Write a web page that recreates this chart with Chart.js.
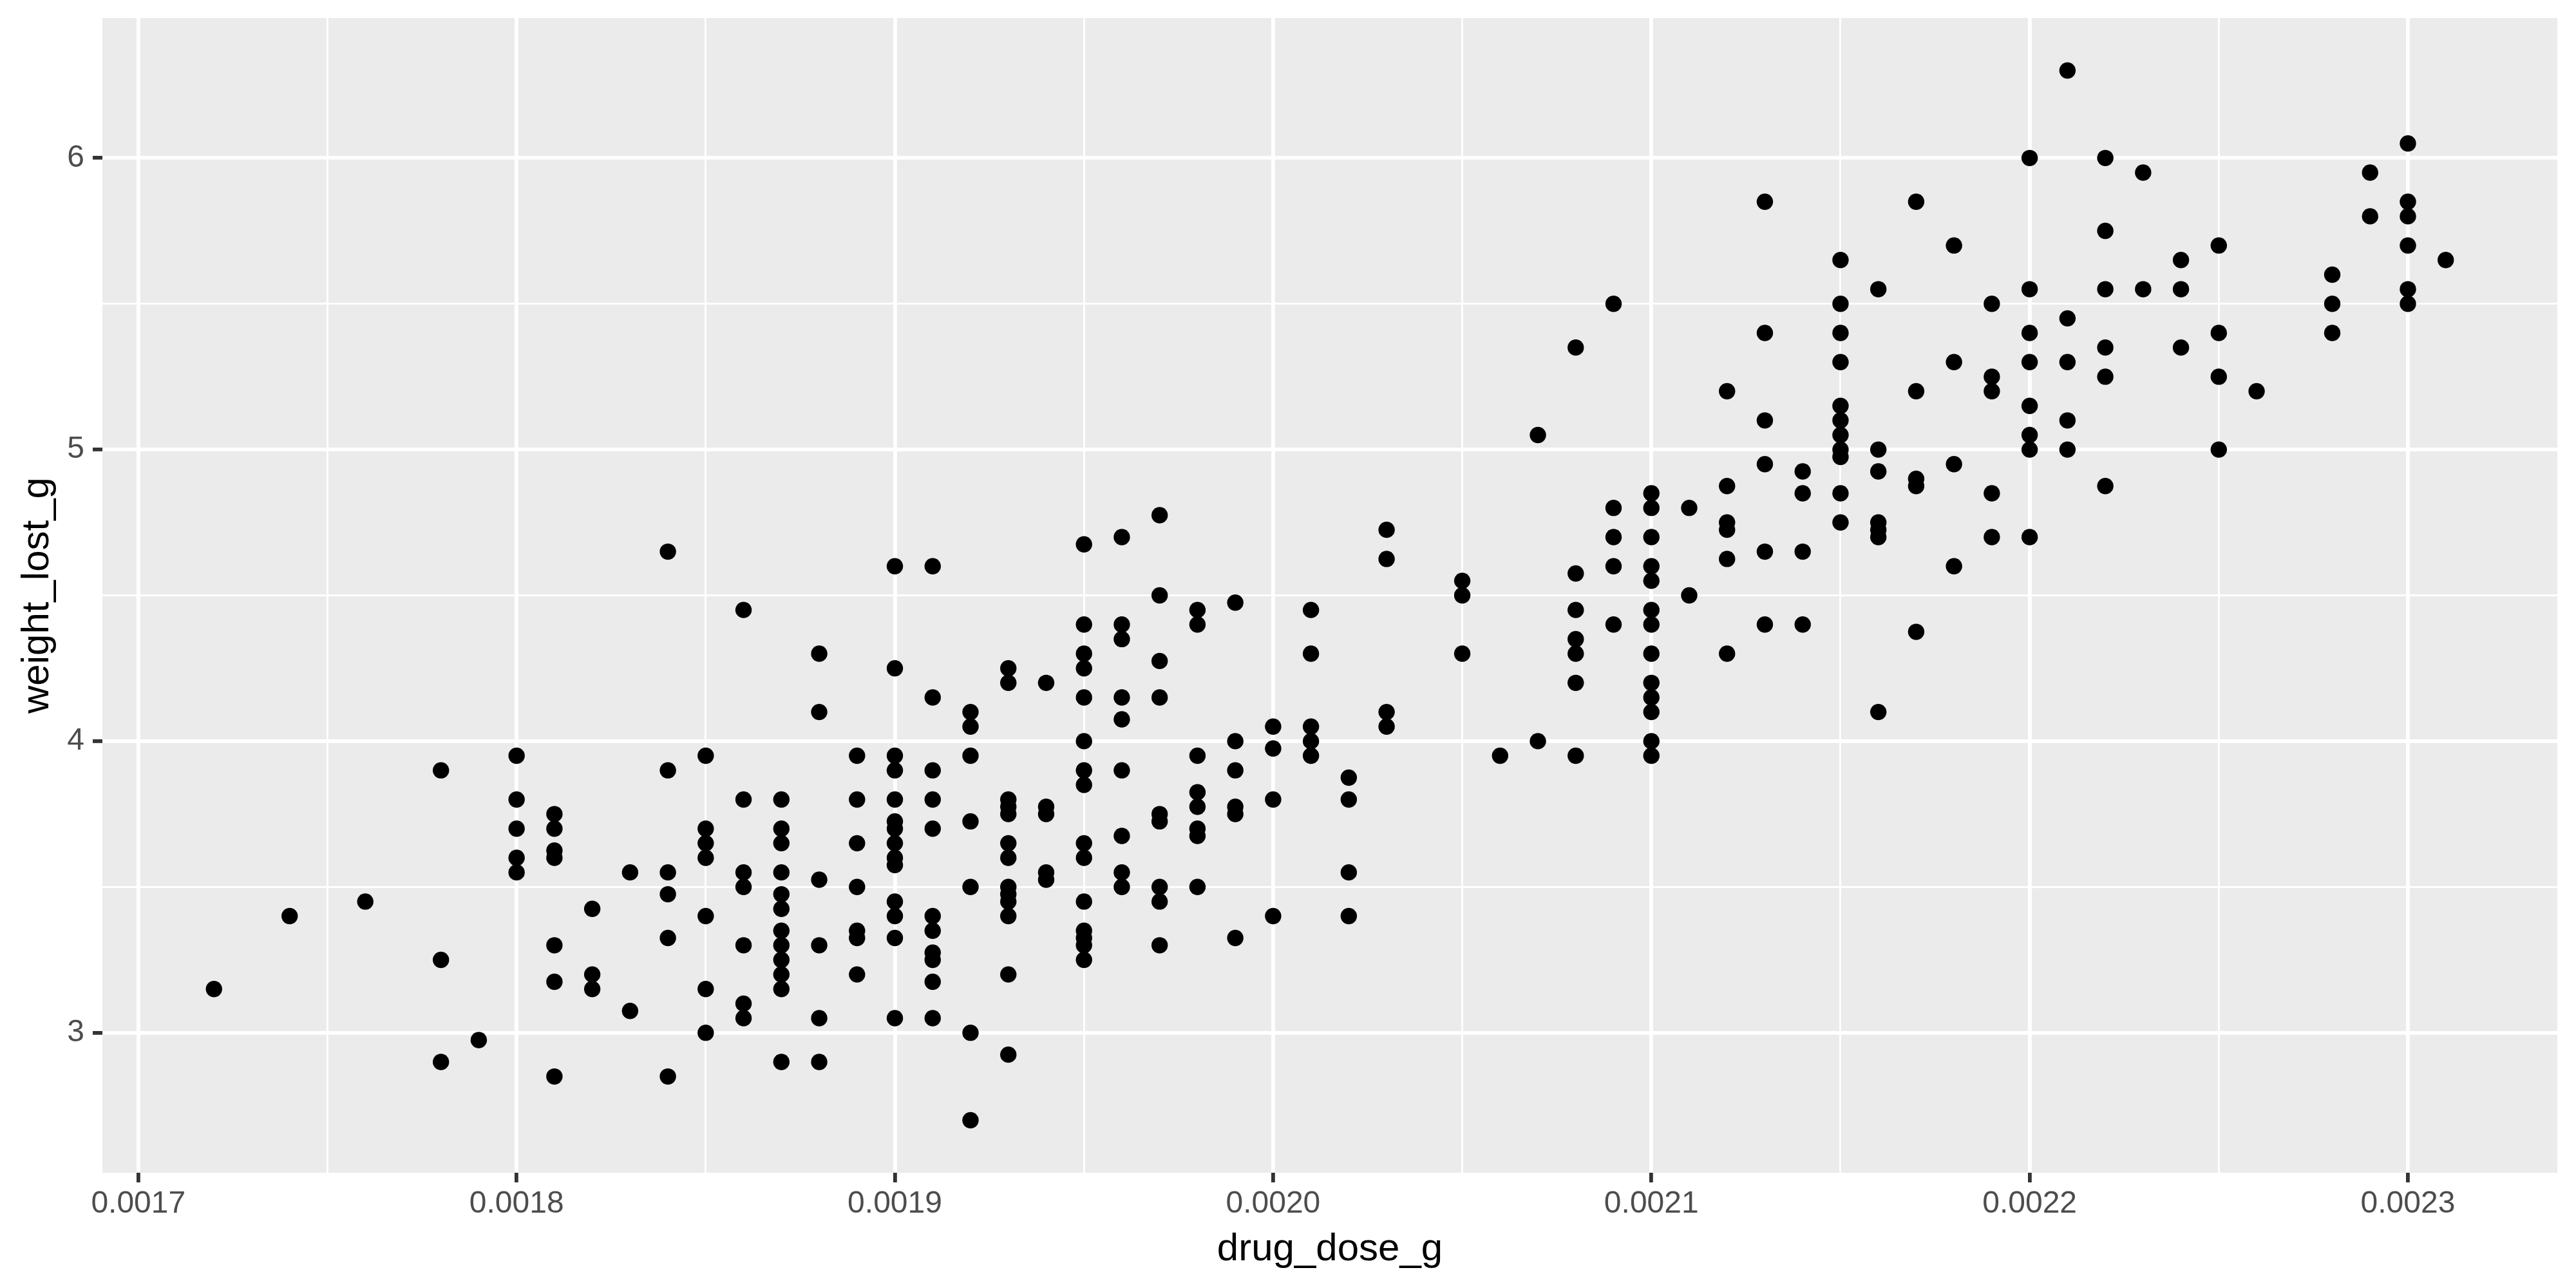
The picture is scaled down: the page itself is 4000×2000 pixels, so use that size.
<!DOCTYPE html>
<html>
<head>
<meta charset="utf-8">
<title>weight_lost_g vs drug_dose_g</title>
<script src="https://cdn.jsdelivr.net/npm/chart.js@4.4.1/dist/chart.umd.min.js"></script>
<style>
  html, body { margin: 0; padding: 0; background: #FFFFFF; }
</style>
</head>
<body>
<canvas id="grafico" width="4000" height="2000"></canvas>
<script>
// Dose levels (g) and the weight lost (g) observed at each dose
const doses = [
    0.00172, 0.00174, 0.00176, 0.00178, 0.00179, 0.00180, 0.00181, 0.00182, 0.00183, 0.00184,
    0.00185, 0.00186, 0.00187, 0.00188, 0.00189, 0.00190, 0.00191, 0.00192, 0.00193, 0.00194,
    0.00195, 0.00196, 0.00197, 0.00198, 0.00199, 0.00200, 0.00201, 0.00202, 0.00203, 0.00205,
    0.00206, 0.00207, 0.00208, 0.00209, 0.00210, 0.00211, 0.00212, 0.00213, 0.00214, 0.00215,
    0.00216, 0.00217, 0.00218, 0.00219, 0.00220, 0.00221, 0.00222, 0.00223, 0.00224, 0.00225,
    0.00226, 0.00228, 0.00229, 0.00230, 0.00231
];
const weightLost = [
    [3.15],
    [3.40],
    [3.45],
    [3.90, 3.25, 2.90],
    [2.975],
    [3.95, 3.80, 3.70, 3.60, 3.55],
    [3.75, 3.70, 3.625, 3.60, 3.30, 3.175, 2.85],
    [3.425, 3.20, 3.15],
    [3.55, 3.075],
    [4.65, 3.90, 3.55, 3.475, 3.325, 2.85],
    [3.95, 3.70, 3.65, 3.60, 3.40, 3.15, 3.00],
    [4.45, 3.80, 3.55, 3.50, 3.30, 3.10, 3.05],
    [3.80, 3.70, 3.65, 3.55, 3.475, 3.425, 3.35, 3.30, 3.25, 3.20, 3.15, 2.90],
    [4.30, 4.10, 3.525, 3.30, 3.05, 2.90],
    [3.95, 3.80, 3.65, 3.50, 3.35, 3.325, 3.20],
    [4.60, 4.25, 3.95, 3.90, 3.80, 3.725, 3.70, 3.65, 3.60, 3.575, 3.45, 3.40, 3.325, 3.05],
    [4.60, 4.15, 3.90, 3.80, 3.70, 3.40, 3.35, 3.275, 3.25, 3.175, 3.05],
    [4.10, 4.05, 3.95, 3.725, 3.50, 3.00, 2.70],
    [4.25, 4.20, 3.80, 3.775, 3.75, 3.65, 3.60, 3.50, 3.475, 3.45, 3.40, 3.20, 2.925],
    [4.20, 3.775, 3.75, 3.55, 3.525],
    [4.675, 4.40, 4.30, 4.25, 4.15, 4.00, 3.90, 3.85, 3.65, 3.60, 3.45, 3.35, 3.325, 3.30, 3.25],
    [4.70, 4.40, 4.35, 4.15, 4.075, 3.90, 3.675, 3.55, 3.50],
    [4.775, 4.50, 4.275, 4.15, 3.75, 3.725, 3.50, 3.45, 3.30],
    [4.45, 4.40, 3.95, 3.825, 3.775, 3.70, 3.675, 3.50],
    [4.475, 4.00, 3.90, 3.775, 3.75, 3.325],
    [4.05, 3.975, 3.80, 3.40],
    [4.45, 4.30, 4.05, 4.00, 3.95],
    [3.875, 3.80, 3.55, 3.40],
    [4.725, 4.625, 4.10, 4.05],
    [4.55, 4.50, 4.30],
    [3.95],
    [5.05, 4.00],
    [5.35, 4.575, 4.45, 4.35, 4.30, 4.20, 3.95],
    [5.50, 4.80, 4.70, 4.60, 4.40],
    [4.85, 4.80, 4.70, 4.60, 4.55, 4.45, 4.40, 4.30, 4.20, 4.15, 4.10, 4.00, 3.95],
    [4.80, 4.50],
    [5.20, 4.875, 4.75, 4.725, 4.625, 4.30],
    [5.85, 5.40, 5.10, 4.95, 4.65, 4.40],
    [4.925, 4.85, 4.65, 4.40],
    [5.65, 5.50, 5.40, 5.30, 5.15, 5.10, 5.05, 5.00, 4.975, 4.85, 4.75],
    [5.55, 5.00, 4.925, 4.75, 4.725, 4.70, 4.10],
    [5.85, 5.20, 4.90, 4.875, 4.375],
    [5.70, 5.30, 4.95, 4.60],
    [5.50, 5.25, 5.20, 4.85, 4.70],
    [6.00, 5.55, 5.40, 5.30, 5.15, 5.05, 5.00, 4.70],
    [6.30, 5.45, 5.30, 5.10, 5.00],
    [6.00, 5.75, 5.55, 5.35, 5.25, 4.875],
    [5.95, 5.55],
    [5.65, 5.55, 5.35],
    [5.70, 5.40, 5.25, 5.00],
    [5.20],
    [5.60, 5.50, 5.40],
    [5.95, 5.80],
    [6.05, 5.85, 5.80, 5.70, 5.55, 5.50],
    [5.65]
];

// Axis breaks (labelled) and minor breaks (grid only)
const xTickLabels = [0.0017, 0.0018, 0.0019, 0.0020, 0.0021, 0.0022, 0.0023];
const xMinorBreaks = [0.00175, 0.00185, 0.00195, 0.00205, 0.00215, 0.00225];
const yTickLabels = [3, 4, 5, 6];
const yMinorBreaks = [3.5, 4.5, 5.5];

const fonte = 'Liberation Sans';

// Monta os pontos a partir das doses
const pontos = [];
doses.forEach((d, i) => {
    weightLost[i].forEach(w => pontos.push({ x: d, y: w }));
});

// Limites com a expansão de 5% do ggplot
const xs = pontos.map(p => p.x);
const ys = pontos.map(p => p.y);
const xPad = (Math.max(...xs) - Math.min(...xs)) * 0.05;
const yPad = (Math.max(...ys) - Math.min(...ys)) * 0.05;

function isMajor(v, majors) {
    return majors.some(m => Math.abs(m - v) < 1e-9);
}

// Fundo cinza do painel
const panelBg = {
    id: 'panelBg',
    beforeDraw(chart) {
        const { ctx, chartArea: a } = chart;
        ctx.save();
        ctx.fillStyle = '#EBEBEB';
        ctx.fillRect(a.left, a.top, a.right - a.left, a.bottom - a.top);
        ctx.restore();
    }
};

function gridFor(majors) {
    return {
        color: '#FFFFFF',
        lineWidth: c => (c.tick && isMajor(c.tick.value, majors)) ? 5.8 : 2.9,
        drawTicks: true,
        tickLength: 15,
        tickWidth: 5.8,
        tickColor: c => (c.tick && isMajor(c.tick.value, majors)) ? '#333333' : 'rgba(0,0,0,0)'
    };
}

const chartConfig = {
    type: 'scatter',
    data: {
        datasets: [{
            data: pontos,
            backgroundColor: '#000000',
            borderWidth: 0,
            pointRadius: 12.7,
            pointHoverRadius: 12.7
        }]
    },
    options: {
        responsive: false,
        animation: false,
        devicePixelRatio: 1,
        layout: {
            padding: { top: 28, right: 29, left: 0, bottom: 0 }
        },
        plugins: {
            legend: { display: false },
            tooltip: { enabled: false }
        },
        scales: {
            x: {
                type: 'linear',
                min: Math.min(...xs) - xPad,
                max: Math.max(...xs) + xPad,
                afterBuildTicks: s => {
                    s.ticks = xTickLabels.concat(xMinorBreaks).sort((a, b) => a - b).map(v => ({ value: v }));
                },
                afterFit: s => { s.height = 179; },
                grid: gridFor(xTickLabels),
                border: { display: false },
                ticks: {
                    autoSkip: false,
                    maxRotation: 0,
                    padding: 5,
                    color: '#4D4D4D',
                    font: { family: fonte, size: 48 },
                    callback: v => isMajor(v, xTickLabels) ? v.toFixed(4) : ''
                },
                title: {
                    display: true,
                    text: 'drug_dose_g',
                    color: '#000000',
                    font: { family: fonte, size: 60 },
                    padding: { top: 0, bottom: 24 }
                }
            },
            y: {
                type: 'linear',
                min: Math.min(...ys) - yPad,
                max: Math.max(...ys) + yPad,
                afterBuildTicks: s => {
                    s.ticks = yTickLabels.concat(yMinorBreaks).sort((a, b) => a - b).map(v => ({ value: v }));
                },
                afterFit: s => { s.width = 159; },
                grid: gridFor(yTickLabels),
                border: { display: false },
                ticks: {
                    autoSkip: false,
                    padding: 13,
                    color: '#4D4D4D',
                    // lineHeight baixo para não empurrar o topo do painel
                    font: { family: fonte, size: 48, lineHeight: 0.5 },
                    callback: v => isMajor(v, yTickLabels) ? String(v) : ''
                },
                title: {
                    display: true,
                    text: 'weight_lost_g',
                    color: '#000000',
                    font: { family: fonte, size: 60 },
                    padding: { top: 22, bottom: 0 }
                }
            }
        }
    },
    plugins: [panelBg]
};

const ctx = document.getElementById('grafico').getContext('2d');
const myChart = new Chart(ctx, chartConfig);
</script>
</body>
</html>
